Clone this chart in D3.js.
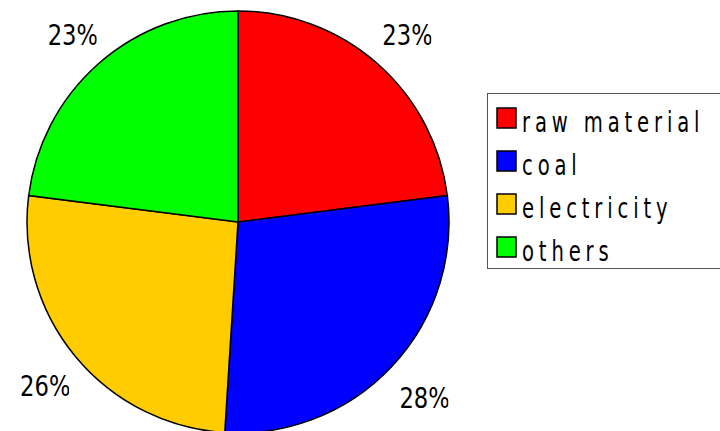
<!DOCTYPE html>
<meta charset="utf-8">
<style>
  body { margin: 0; background: #fff; }
  .label { font: 28px "DejaVu Sans Condensed", "DejaVu Sans", sans-serif; fill: #000; }
  .legend text { font: 29px "DejaVu Sans Condensed", "DejaVu Sans", sans-serif; letter-spacing: 6.5px; fill: #000; }
</style>
<body>
<svg width="720" height="431"></svg>
<script src="https://cdn.jsdelivr.net/npm/d3@7"></script>
<script>
var categories = ["raw material", "coal", "electricity", "others"];
var values = [23, 28, 26, 23];
var colors = ["#ff0000", "#0000ff", "#ffcc00", "#00ff00"];

var svg = d3.select("svg");
var cx = 238, cy = 222, radius = 211;

var pie = d3.pie().sort(null).value(function(d) { return d.value; });
var arc = d3.arc().innerRadius(0).outerRadius(radius);
var labelArc = d3.arc().innerRadius(253).outerRadius(253);

var data = categories.map(function(c, i) { return {name: c, value: values[i], color: colors[i]}; });
var total = d3.sum(values);

var g = svg.append("g").attr("transform", "translate(" + cx + "," + cy + ")");

g.selectAll("path")
  .data(pie(data))
  .enter().append("path")
    .attr("d", arc)
    .attr("fill", function(d) { return d.data.color; })
    .attr("stroke", "#000")
    .attr("stroke-width", 1.5);

// labels sit in a box that is too narrow, so the "%" gets cut off
var defs = svg.append("defs");
pie(data).forEach(function(d, i) {
  var c = labelArc.centroid(d);
  var x0 = cx + c[0] - 23, y0 = cy + c[1] + 13;
  defs.append("clipPath").attr("id", "clip" + i)
    .append("rect")
      .attr("x", x0 - 2).attr("y", y0 - 30)
      .attr("width", 51).attr("height", 40);
  svg.append("g")
    .attr("clip-path", "url(#clip" + i + ")")
    .append("text")
      .attr("class", "label")
      .attr("transform", "translate(" + x0 + "," + y0 + ") scale(0.9,1)")
      .text(Math.round(d.data.value / total * 100) + "%");
});

var legend = svg.append("g").attr("class", "legend");
legend.append("rect")
  .attr("x", 487.5).attr("y", 93.5)
  .attr("width", 260).attr("height", 175)
  .attr("fill", "#fff")
  .attr("stroke", "#555")
  .attr("stroke-width", 1);

var item = legend.selectAll("g.item")
  .data(data)
  .enter().append("g")
    .attr("class", "item")
    .attr("transform", function(d, i) { return "translate(497," + (108 + i * 43) + ")"; });
item.append("rect")
  .attr("width", 19).attr("height", 20)
  .attr("fill", function(d) { return d.color; })
  .attr("stroke", "#000")
  .attr("stroke-width", 1.5);
item.append("text")
  .attr("transform", "translate(25,24) scale(0.75,1)")
  .text(function(d) { return d.name; });
</script>
</body>
